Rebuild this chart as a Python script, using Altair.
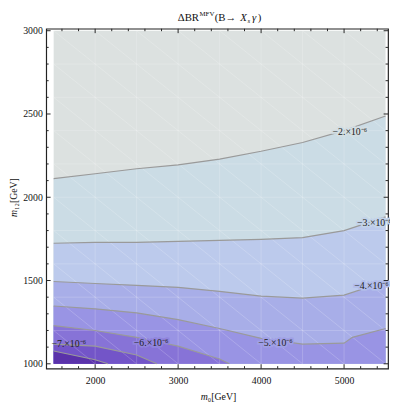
import altair as alt
import pandas as pd

# ---------------- data ----------------
x_grid = [1500, 2000, 2500, 3000, 3500, 4000, 4500, 5000, 5500]
y_grid = [1000, 1200, 1400, 1600, 1800, 2000, 2200, 2400, 2600, 2800, 3000]

# contour lines (level -> points)
c2_x = [1500, 2000, 2500, 3000, 3500, 4000, 4500, 5000, 5500]
c2_y = [2112, 2141, 2171, 2194, 2229, 2276, 2329, 2400, 2488]
c3_x = [1500, 2000, 2500, 3000, 3500, 4000, 4500, 5000, 5500]
c3_y = [1724, 1729, 1729, 1735, 1741, 1747, 1758, 1800, 1882]
c4_x = [1500, 2000, 2500, 3000, 3500, 4000, 4500, 5000, 5500]
c4_y = [1494, 1482, 1471, 1459, 1435, 1406, 1394, 1412, 1494]
c5_x = [1500, 2000, 2500, 3000, 3500, 4000, 4500, 5000, 5100, 5500]
c5_y = [1347, 1330, 1306, 1265, 1212, 1153, 1118, 1124, 1159, 1212]
c6_x = [1500, 2000, 2500, 3000, 3500, 3618]
c6_y = [1229, 1200, 1159, 1106, 1029, 1000]
c7_x = [1500, 2000, 2500, 2744]
c7_y = [1118, 1106, 1053, 1000]
c8_x = [1500, 2000, 2154]
c8_y = [1077, 1024, 1000]

contours = [(c2_x, c2_y), (c3_x, c3_y), (c4_x, c4_y), (c5_x, c5_y),
            (c6_x, c6_y), (c7_x, c7_y), (c8_x, c8_y)]

# fill colours: region above -2e-6 first, then region below each line
top_color = "#dce1e0"
band_colors = ["#cbdce5", "#bccaec", "#a8aee8", "#9994e4", "#8773d7", "#7355c8", "#5a32aa"]
halo_colors = ["#d3dee3", "#c3d3e9", "#b1bcea", "#a0a0e6", "#9084dd"]  # -7 label sits on the edge: no halo

label_text = ["−2.×10⁻⁶", "−3.×10⁻⁶", "−4.×10⁻⁶", "−5.×10⁻⁶", "−6.×10⁻⁶", "−7.×10⁻⁶"]
label_x = [5070, 5365, 5330, 4173, 2674, 1682]
label_y = [2394, 1847, 1465, 1124, 1124, 1118]

x_major = [2000, 3000, 4000, 5000]
x_minor = [1600, 1800, 2200, 2400, 2600, 2800, 3200, 3400, 3600, 3800,
           4200, 4400, 4600, 4800, 5200, 5400]
y_major = [1000, 1500, 2000, 2500, 3000]
y_minor = [1100, 1200, 1300, 1400, 1600, 1700, 1800, 1900,
           2100, 2200, 2300, 2400, 2600, 2700, 2800, 2900]

# ---------------- layout ----------------
W, H = 349, 347
FONT = "Liberation Serif"
xs = alt.Scale(domain=[1410, 5530], nice=False, zero=False)
ys = alt.Scale(domain=[971, 3012], nice=False, zero=False)

X_AX = alt.Axis(values=x_major, title=None, grid=False, ticks=False, tickSize=0, domain=False,
                labelFont=FONT, labelFontSize=10, labelColor="#111", labelPadding=7, format="d")
Y_AX = alt.Axis(values=y_major, title=None, grid=False, ticks=False, tickSize=0, domain=False,
                labelFont=FONT, labelFontSize=10, labelColor="#111", labelPadding=4, format="d")


def X(field):
    return alt.X(field, scale=xs, axis=X_AX)


def Y(field, **kw):
    return alt.Y(field, scale=ys, axis=Y_AX, **kw)


layers = []

rect_df = pd.DataFrame({"x": [x_grid[0]], "x2": [x_grid[-1]],
                        "y": [y_grid[0]], "y2": [y_grid[-1]]})
layers.append(
    alt.Chart(rect_df).mark_rect(color=top_color).encode(
        x=X("x:Q"), x2="x2:Q", y=Y("y:Q"), y2="y2:Q")
)

# filled bands: paint area under each line with the colour of the band below it
for (cx, cy), col in zip(contours, band_colors):
    df = pd.DataFrame({"x": cx, "y": cy, "base": [y_grid[0]] * len(cx)})
    layers.append(
        alt.Chart(df).mark_area(color=col, opacity=1).encode(
            x=X("x:Q"), y=Y("y:Q", stack=None), y2="base:Q")
    )

# mesh lines
mesh = []
for xv in x_grid[1:-1]:
    mesh.append({"x": xv, "x2": xv, "y": y_grid[0], "y2": y_grid[-1]})
for yv in y_grid[1:-1]:
    mesh.append({"x": x_grid[0], "x2": x_grid[-1], "y": yv, "y2": yv})
for i in range(len(x_grid) - 1):
    for j in range(len(y_grid) - 1):
        mesh.append({"x": x_grid[i], "x2": x_grid[i + 1], "y": y_grid[j + 1], "y2": y_grid[j]})
mesh_df = pd.DataFrame(mesh)
layers.append(
    alt.Chart(mesh_df).mark_rule(color="white", opacity=0.24, strokeWidth=0.8).encode(
        x=X("x:Q"), x2="x2:Q", y=Y("y:Q"), y2="y2:Q")
)

# contour lines
for cx, cy in contours:
    df = pd.DataFrame({"x": cx, "y": cy})
    layers.append(
        alt.Chart(df).mark_line(color="#9a9a9a", strokeWidth=1.2).encode(
            x=X("x:Q"), y=Y("y:Q"), order="x:Q")
    )

# contour labels (with a halo that interrupts the line, as in the original)
for t, lx, ly, hc in zip(label_text, label_x, label_y, halo_colors):
    df = pd.DataFrame({"t": [t], "x": [lx], "y": [ly]})
    layers.append(
        alt.Chart(df).mark_text(font=FONT, fontSize=10, color=hc, stroke=hc, strokeWidth=3.5,
                                baseline="middle").encode(
            x=X("x:Q"), y=Y("y:Q"), text="t:N")
    )
lab_df = pd.DataFrame({"t": label_text, "x": label_x, "y": label_y})
layers.append(
    alt.Chart(lab_df).mark_text(font=FONT, fontSize=10, color="#222", baseline="middle").encode(
        x=X("x:Q"), y=Y("y:Q"), text="t:N")
)


# frame ticks (inward)
def xticks(vals, length):
    df = pd.DataFrame({"v": vals})
    bottom = alt.Chart(df).mark_rule(color="#222", strokeWidth=1).encode(
        x=X("v:Q"), y=alt.value(H), y2=alt.value(H - length))
    top = alt.Chart(df).mark_rule(color="#222", strokeWidth=1).encode(
        x=X("v:Q"), y=alt.value(0), y2=alt.value(length))
    return [bottom, top]


def yticks(vals, length):
    df = pd.DataFrame({"v": vals})
    left = alt.Chart(df).mark_rule(color="#222", strokeWidth=1).encode(
        y=Y("v:Q"), x=alt.value(0), x2=alt.value(length))
    right = alt.Chart(df).mark_rule(color="#222", strokeWidth=1).encode(
        y=Y("v:Q"), x=alt.value(W), x2=alt.value(W - length))
    return [left, right]


layers += xticks(x_major, 4.5) + xticks(x_minor, 2.5)
layers += yticks(y_major, 4.5) + yticks(y_minor, 2.5)

# title & axis titles as text pieces
one = pd.DataFrame({"a": [0]})


def txt(t, x, y, size=11, style="normal", align="left", baseline="alphabetic", angle=0):
    kw = dict(text=t, font=FONT, fontSize=size, fontStyle=style, align=align,
              baseline=baseline, color="#111")
    if angle:
        kw["angle"] = angle
    return alt.Chart(one).mark_text(**kw).encode(x=alt.value(x), y=alt.value(y))


layers += [
    txt("ΔBR", 156, -8, align="right"),
    txt("MFV", 156.5, -12.5, size=7),
    txt("(B→", 172, -8),
    txt("X", 198, -8, style="italic"),
    txt("s", 205.5, -5.5, size=7, style="italic"),
    txt("γ", 210, -8, style="italic"),
    txt(")", 216, -8),
    # x axis title
    txt("m", 165, 376, size=10, style="italic", align="right", baseline="middle"),
    txt("₀[GeV]", 165, 376, size=10, align="left", baseline="middle"),
    # y axis title
    txt("m", -33, 185, size=10, style="italic", align="right", baseline="middle", angle=270),
    txt("₁₂[GeV]", -33, 185, size=10, align="left", baseline="middle", angle=270),
]

chart = alt.layer(*layers).properties(
    width=W, height=H,
    autosize=alt.AutoSizeParams(type="none"),
    padding={"left": 39, "top": 17, "right": 2, "bottom": 34},
).configure_view(stroke="#222", strokeWidth=1.2)

chart.save("out.html", embed_options={"renderer": "svg", "actions": False})
